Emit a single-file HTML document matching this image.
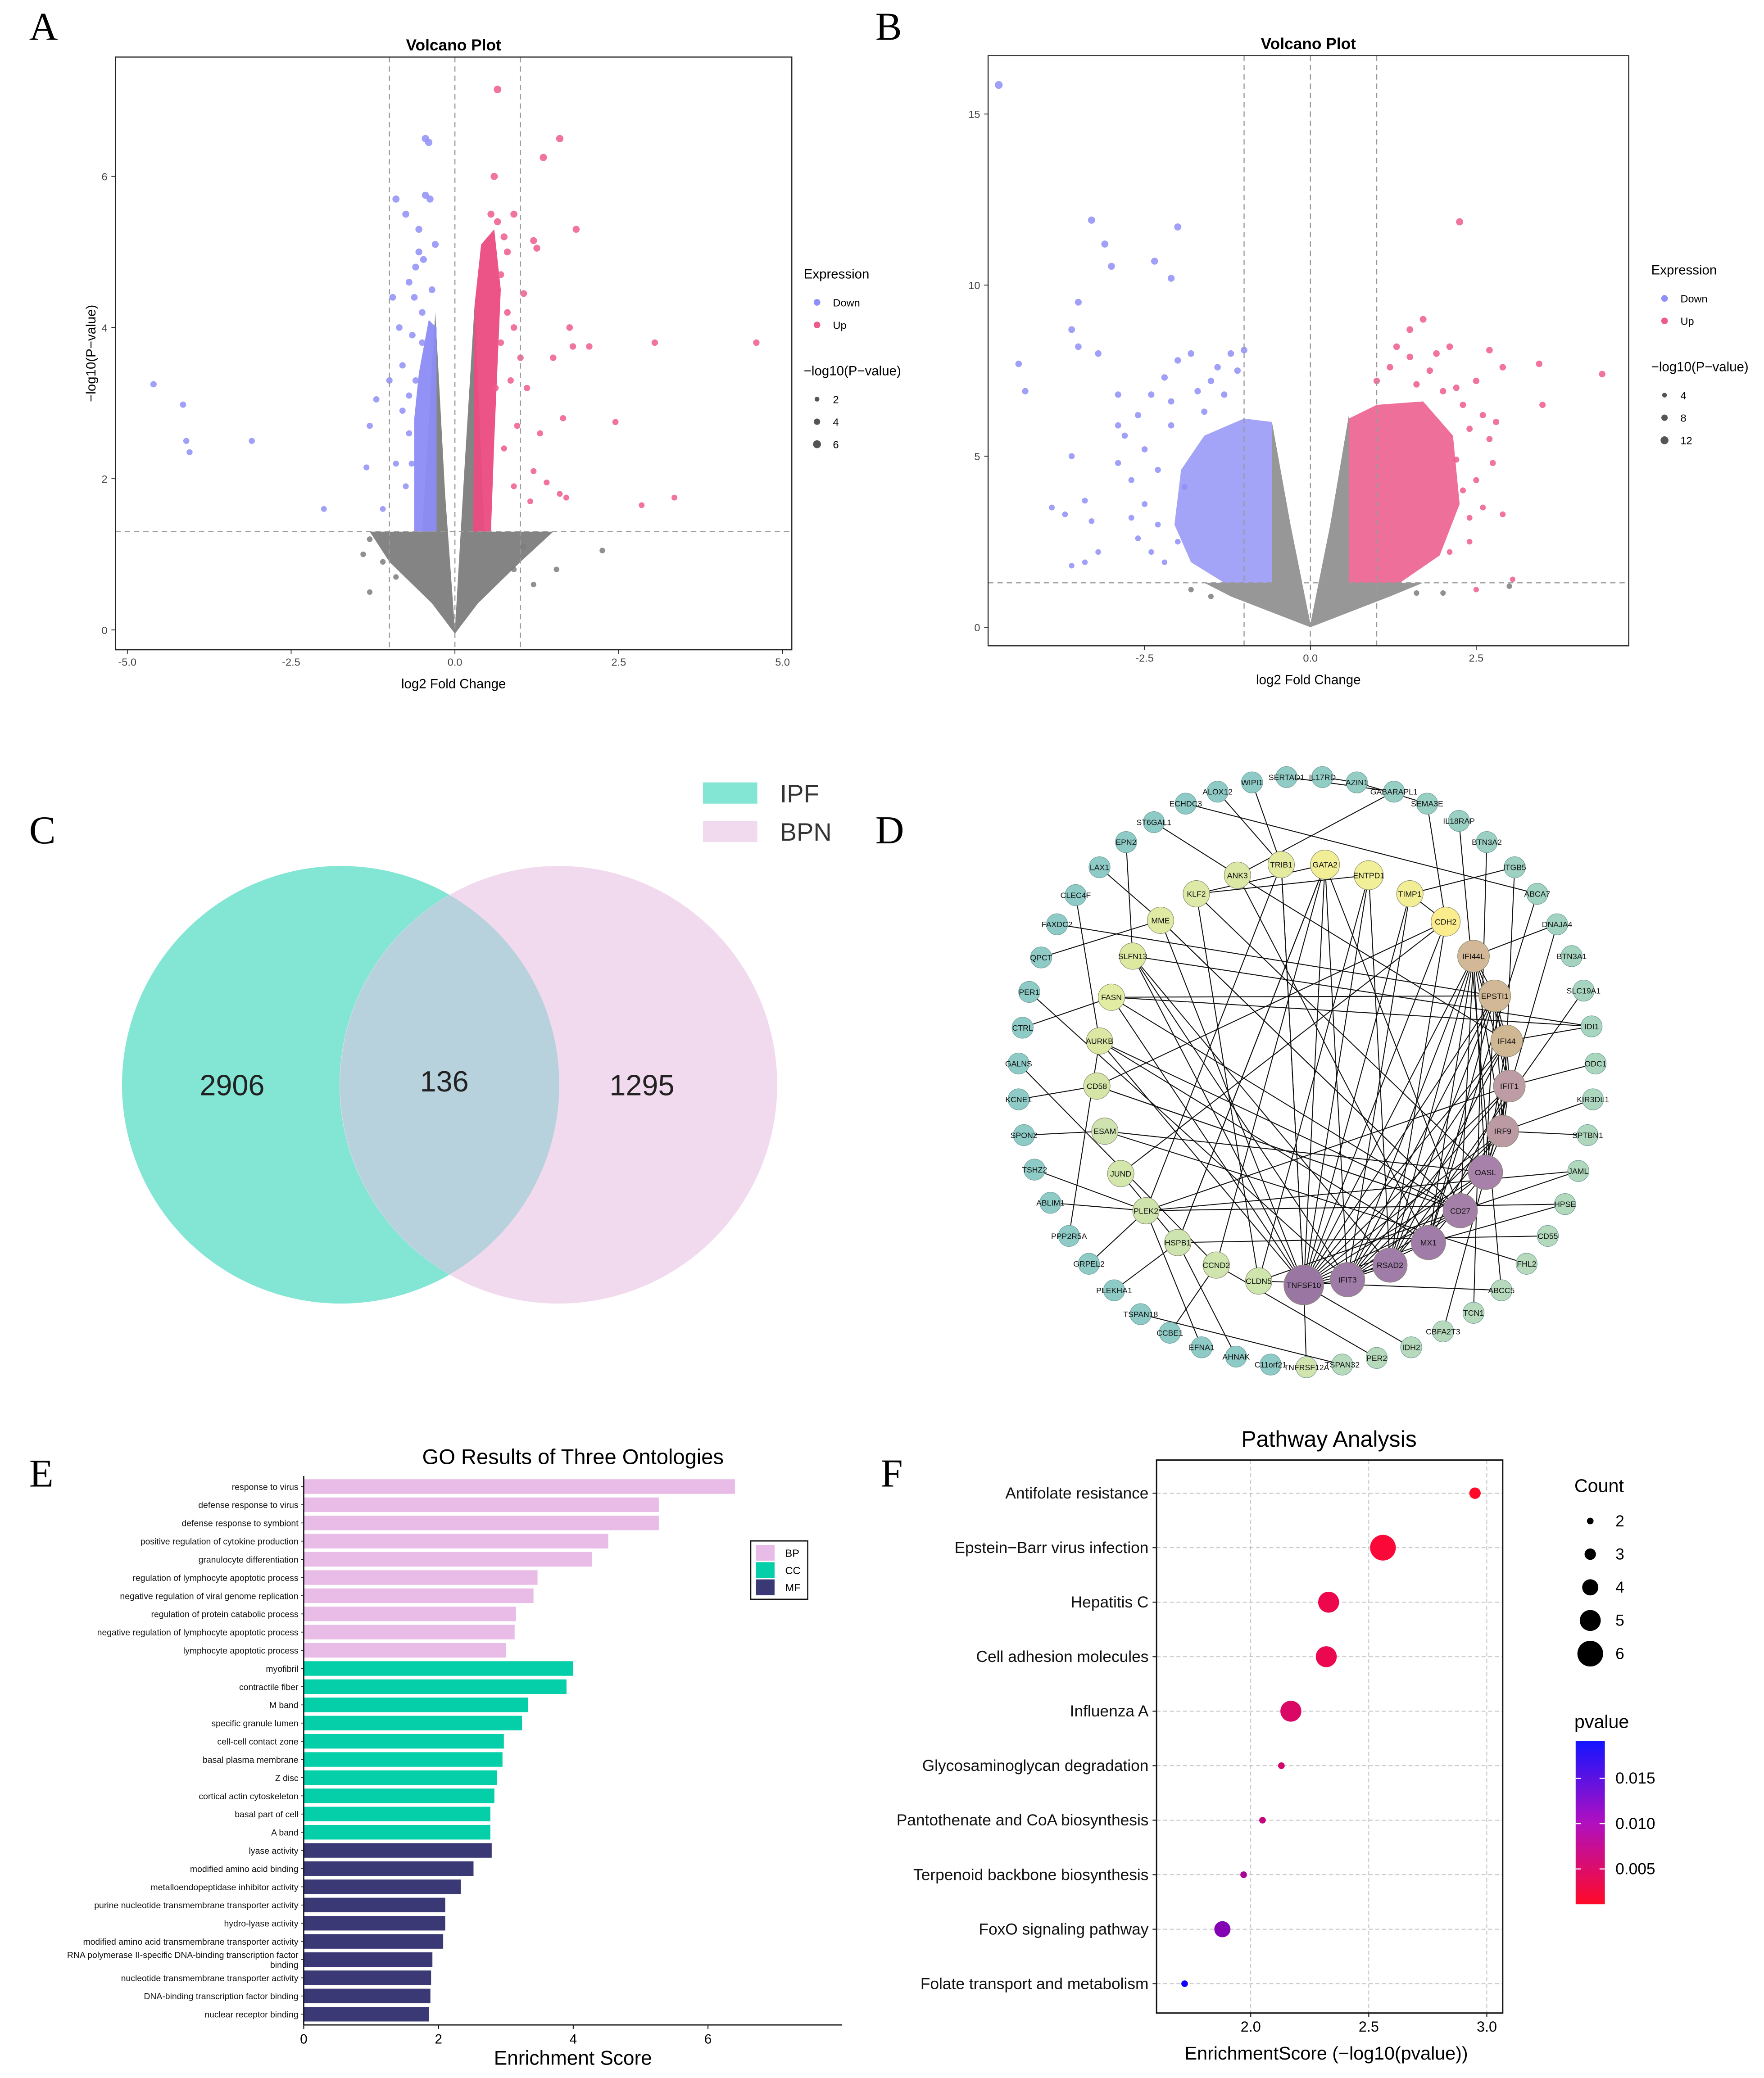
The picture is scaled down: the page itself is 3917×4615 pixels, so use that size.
<!DOCTYPE html>
<html><head><meta charset="utf-8"><style>
html,body{margin:0;padding:0;background:#fff}
svg{display:block}
text{font-family:"Liberation Sans",sans-serif}
.pl{font-family:"Liberation Serif",serif;font-size:30px}
</style></head><body>
<svg id="fig" xmlns="http://www.w3.org/2000/svg" width="3917" height="4615" viewBox="0 0 1330 1567">
<rect width="1330" height="1567" fill="#fff"/>
<text class="pl" x="22" y="30">A</text>
<text class="pl" x="660" y="30">B</text>
<text class="pl" x="22" y="636">C</text>
<text class="pl" x="660" y="636">D</text>
<text class="pl" x="22" y="1121">E</text>
<text class="pl" x="664" y="1121">F</text>

<g id="venn">
<circle cx="257" cy="818" r="165" fill="#83e5d4"/>
<circle cx="421" cy="818" r="165" fill="#f2daee"/>
<path d="M339,675 A165,165 0 0 1 339,961 A165,165 0 0 1 339,675Z" fill="#b7d2dc"/>
<text x="175" y="826" font-size="22" text-anchor="middle" fill="#222">2906</text>
<text x="335" y="823" font-size="22" text-anchor="middle" fill="#222">136</text>
<text x="484" y="826" font-size="22" text-anchor="middle" fill="#222">1295</text>
<rect x="530" y="590" width="41" height="16" fill="#83e5d4"/>
<text x="588" y="605" font-size="19" fill="#333">IPF</text>
<rect x="530" y="619" width="41" height="16" fill="#f2daee"/>
<text x="588" y="634" font-size="19" fill="#333">BPN</text>
</g>
<g id="gA"></g>
<g id="gB"></g>
<g id="gD"></g>
<g id="gE"></g>
<g id="gF"></g>
</svg>
<script>
const NS="http://www.w3.org/2000/svg";
function mk(p,tag,at,txt){const e=document.createElementNS(NS,tag);for(const k in at)e.setAttribute(k,at[k]);if(txt!==undefined)e.textContent=txt;p.appendChild(e);return e;}

// ---------- Volcano A data ----------
const aDown=[[-4.6,3.25],[-4.15,2.98],[-4.1,2.5],[-4.05,2.35],[-3.1,2.5],[-2.0,1.6],[-1.35,2.15],[-1.3,2.7],[-1.2,3.05],[-1.0,3.3],[-0.85,4.0],[-0.9,5.7],[-0.75,5.5],[-0.45,6.5],[-0.4,6.45],[-0.45,5.75],[-0.55,5.3],[-0.6,4.8],[-0.7,4.6],[-0.3,5.1],[-0.5,4.2],[-0.35,4.5],[-0.8,3.5],[-0.65,3.9],[-0.7,2.6],[-0.9,2.2],[-1.1,1.6],[-0.75,1.9],[-0.95,4.4],[-0.55,5.0],[-0.38,5.7],[-0.62,4.4],[-0.6,3.3],[-0.7,3.1],[-0.5,3.8],[-0.8,2.9],[-0.66,2.2],[-0.48,4.9]];
const aUp=[[0.65,7.15],[1.6,6.5],[1.35,6.25],[1.85,5.3],[1.2,5.15],[1.25,5.05],[0.9,5.5],[1.05,4.45],[1.0,3.6],[1.75,4.0],[1.5,3.6],[1.65,2.8],[2.05,3.75],[1.8,3.75],[2.45,2.75],[3.05,3.8],[4.6,3.8],[2.85,1.65],[3.35,1.75],[1.6,1.8],[1.7,1.75],[1.4,1.95],[1.2,2.1],[0.8,5.0],[0.65,5.4],[0.55,5.5],[0.7,4.7],[0.6,6.0],[1.1,3.2],[0.9,4.0],[1.3,2.6],[0.95,2.7],[0.85,3.3],[0.75,5.2],[1.15,1.7],[0.7,3.8],[0.8,4.2],[0.62,3.2],[0.75,2.4],[0.9,1.9]];
const aGray=[[2.25,1.05],[-1.3,0.5],[1.55,0.8],[1.2,0.6],[-1.1,0.9],[-1.4,1.0],[1.05,1.1],[-0.9,0.7],[0.9,0.8],[-1.3,1.2]];
const aGrayBody=[[-1.3,1.3],[-0.5,1.3],[-0.3,4.2],[-0.15,1.8],[0,0],[0.15,2.2],[0.3,4.3],[0.45,1.3],[1.5,1.3],[1.0,0.9],[0.35,0.35],[0,-0.05],[-0.35,0.35],[-1.0,0.9]];
const aDownBody=[[-0.62,1.3],[-0.28,1.3],[-0.28,4.0],[-0.4,4.1],[-0.55,3.4],[-0.62,2.8]];
const aUpBody=[[0.28,1.3],[0.55,1.3],[0.6,2.5],[0.7,4.5],[0.6,5.3],[0.4,5.1],[0.3,4.3]];
const aXTicks=[-5,-2.5,0,2.5,5];
const aYTicks=[0,2,4,6];
// ---------- Volcano B data ----------
const bDown=[[-4.7,15.85],[-4.4,7.7],[-4.3,6.9],[-3.3,11.9],[-3.1,11.2],[-3.0,10.55],[-2.0,11.7],[-2.35,10.7],[-2.1,10.2],[-3.5,9.5],[-3.6,8.7],[-3.5,8.2],[-3.2,8.0],[-3.6,5.0],[-3.9,3.5],[-3.7,3.3],[-3.4,3.7],[-3.3,3.1],[-3.2,2.2],[-3.4,1.9],[-3.6,1.8],[-2.7,4.3],[-2.5,5.2],[-2.6,6.2],[-2.9,6.8],[-2.2,7.3],[-1.8,8.0],[-1.2,8.0],[-1.0,8.1],[-1.5,7.2],[-2.3,3.0],[-2.0,2.5],[-1.9,4.1],[-2.4,6.8],[-2.1,5.9],[-2.8,5.6],[-2.2,1.9],[-1.3,6.8],[-1.6,6.3],[-2.6,2.6],[-2.9,4.8],[-2.0,7.8],[-1.1,7.5],[-2.3,4.6],[-2.5,3.6],[-2.1,6.6],[-1.7,6.9],[-2.7,3.2],[-2.9,5.9],[-1.4,7.6],[-2.4,2.2]];
const bUp=[[2.25,11.85],[1.7,9.0],[1.5,8.7],[1.9,8.0],[2.1,8.2],[2.7,8.1],[2.9,7.6],[3.45,7.7],[3.5,6.5],[4.4,7.4],[2.9,3.3],[3.05,1.4],[2.5,1.1],[2.75,4.8],[2.6,6.2],[2.4,5.8],[2.2,4.9],[2.0,6.9],[1.3,8.2],[1.0,7.2],[2.5,7.2],[2.3,6.5],[1.8,7.5],[1.2,7.6],[2.6,3.5],[2.4,2.5],[2.1,2.2],[2.7,5.5],[1.5,7.9],[2.3,4.0],[2.5,4.3],[2.2,7.0],[1.6,7.1],[2.4,3.2],[2.8,6.0]];
const bGray=[[3.0,1.2],[-1.5,0.9],[1.6,1.0],[-1.8,1.1],[2.0,1.0]];
const bGrayBody=[[-1.6,1.3],[-0.58,1.3],[-0.58,6.0],[-0.3,3.0],[0,0.1],[0.3,3.0],[0.58,6.2],[0.58,1.3],[1.7,1.3],[1.2,0.9],[0.4,0.3],[0,0],[-0.4,0.3],[-1.2,0.9]];
const bDownBody=[[-0.58,1.3],[-1.3,1.3],[-1.8,1.9],[-2.05,3.0],[-1.95,4.6],[-1.6,5.6],[-1.0,6.1],[-0.58,6.0]];
const bUpBody=[[0.58,1.3],[1.35,1.3],[1.95,2.1],[2.25,3.6],[2.15,5.6],[1.7,6.6],[1.0,6.5],[0.58,6.1]];
const bXTicks=[-2.5,0,2.5];
const bYTicks=[0,5,10,15];

function volcano(g,cfg){
  const sx=v=>cfg.x0+(v-cfg.xv0)*cfg.xk, sy=v=>cfg.y0-v*cfg.yk;
  mk(g,'text',{x:(cfg.L+cfg.R)/2,y:cfg.T-5,'font-size':12,'font-weight':'bold','text-anchor':'middle'},'Volcano Plot');
  const poly=(pts,col,name,op)=>{const e=mk(g,'polygon',{points:pts.map(p=>sx(p[0])+','+sy(p[1])).join(' '),fill:col,'fill-opacity':op});};
  poly(cfg.grayBody,'#7d7d7d','gray-dense-region',cfg.op);
  poly(cfg.downBody,'#8c8cf5','down-dense-region',cfg.op);
  poly(cfg.upBody,'#eb4b82','up-dense-region',cfg.op);
  const dots=(arr,col,name)=>arr.forEach(p=>{const c=mk(g,'circle',{cx:sx(p[0]),cy:sy(p[1]),r:2+p[1]*cfg.rk,fill:col,'fill-opacity':0.85});});
  dots(cfg.gray,'#7d7d7d','gray-point');dots(cfg.down,'#8f8ff7','down-point');dots(cfg.up,'#ee5a8f','up-point');
  cfg.vlines.forEach(v=>mk(g,'line',{x1:sx(v),x2:sx(v),y1:cfg.T,y2:cfg.B,stroke:'#999','stroke-dasharray':'4,3','stroke-width':0.8}));
  mk(g,'line',{x1:cfg.L,x2:cfg.R,y1:sy(1.3),y2:sy(1.3),stroke:'#999','stroke-dasharray':'4,3','stroke-width':0.8});
  const fr=mk(g,'rect',{x:cfg.L,y:cfg.T,width:cfg.R-cfg.L,height:cfg.B-cfg.T,fill:'none',stroke:'#222','stroke-width':0.8});
  cfg.xt.forEach(v=>{mk(g,'line',{x1:sx(v),x2:sx(v),y1:cfg.B,y2:cfg.B+3,stroke:'#222','stroke-width':0.6});const t=mk(g,'text',{x:sx(v),y:cfg.B+12,'font-size':8,'text-anchor':'middle',fill:'#444'},v.toFixed(1));});
  cfg.yt.forEach(v=>{mk(g,'line',{x1:cfg.L-3,x2:cfg.L,y1:sy(v),y2:sy(v),stroke:'#222','stroke-width':0.6});const t=mk(g,'text',{x:cfg.L-6,y:sy(v)+3,'font-size':8,'text-anchor':'end',fill:'#444'},String(v));});
  const xl=mk(g,'text',{x:(cfg.L+cfg.R)/2,y:cfg.B+29,'font-size':10,'text-anchor':'middle'},'log2 Fold Change');
  if(cfg.ylab){const yl=mk(g,'text',{x:0,y:0,'font-size':10,'text-anchor':'middle',transform:`translate(${cfg.L-15},${(cfg.T+cfg.B)/2}) rotate(-90)`},'−log10(P−value)');}
  const lx=cfg.lx,ly=cfg.ly;
  mk(g,'text',{x:lx,y:ly,'font-size':10},'Expression');
  mk(g,'circle',{cx:lx+10,cy:ly+18,r:2.5,fill:'#8f8ff7'});mk(g,'text',{x:lx+22,y:ly+21,'font-size':8},'Down');
  mk(g,'circle',{cx:lx+10,cy:ly+35,r:2.5,fill:'#ee5a8f'});mk(g,'text',{x:lx+22,y:ly+38,'font-size':8},'Up');
  mk(g,'text',{x:lx,y:ly+73,'font-size':10},'−log10(P−value)');
  cfg.sz.forEach((s,i)=>{mk(g,'circle',{cx:lx+10,cy:ly+91+i*17,r:1.8+i*0.6,fill:'#555'});mk(g,'text',{x:lx+22,y:ly+94+i*17,'font-size':8},String(s));});
}
volcano(document.getElementById('gA'),{L:87,R:597,T:43,B:490,x0:343,xv0:0,xk:49.4,y0:475,yk:57,rk:0.12,op:0.95,gray:aGray,down:aDown,up:aUp,grayBody:aGrayBody,downBody:aDownBody,upBody:aUpBody,vlines:[-1,0,1],xt:aXTicks,yt:aYTicks,ylab:true,lx:606,ly:210,sz:[2,4,6]});
volcano(document.getElementById('gB'),{L:745,R:1228,T:42,B:487,x0:988,xv0:0,xk:50,y0:473,yk:25.8,rk:0.06,op:0.8,gray:bGray,down:bDown,up:bUp,grayBody:bGrayBody,downBody:bDownBody,upBody:bUpBody,vlines:[-1,0,1],xt:bXTicks,yt:bYTicks,ylab:false,lx:1245,ly:207,sz:[4,8,12]});

// ---------- Network ----------
const outerNames=["WIPI1","SERTAD1","IL17RD","AZIN1","GABARAPL1","SEMA3E","IL18RAP","BTN3A2","ITGB5","ABCA7","DNAJA4","BTN3A1","SLC19A1","IDI1","ODC1","KIR3DL1","SPTBN1","JAML","HPSE","CD55","FHL2","ABCC5","TCN1","CBFA2T3","IDH2","PER2","TSPAN32","TNFRSF12A","C11orf21","AHNAK","EFNA1","CCBE1","TSPAN18","PLEKHA1","GRPEL2","PPP2R5A","ABLIM1","TSHZ2","SPON2","KCNE1","GALNS","CTRL","PER1","QPCT","FAXDC2","CLEC4F","LAX1","EPN2","ST6GAL1","ECHDC3","ALOX12"];
const outerPos=[[944,590],[970,586],[997,586],[1023,590],[1051,597],[1076,606],[1100,619],[1121,635],[1142,654],[1159,674],[1174,697],[1185,721],[1194,747],[1200,774],[1203,802],[1201,829],[1197,856],[1190,883],[1180,908],[1167,932],[1151,953],[1132,973],[1111,990],[1088,1004],[1064,1016],[1038,1024],[1012,1029],[985,1031],[958,1029],[932,1023],[906,1016],[882,1005],[860,991],[840,973],[821,953],[806,932],[792,907],[780,882],[772,856],[768,829],[768,802],[771,775],[776,748],[785,722],[797,697],[811,675],[829,654],[849,635],[870,620],[894,606],[918,597]];
const innerNames=["TRIB1","GATA2","ENTPD1","TIMP1","CDH2","IFI44L","EPSTI1","IFI44","IFIT1","IRF9","OASL","CD27","MX1","RSAD2","IFIT3","TNFSF10","CLDN5","CCND2","HSPB1","PLEK2","JUND","ESAM","CD58","AURKB","FASN","SLFN13","MME","KLF2","ANK3"];
const innerPos=[[966,652],[999,652],[1032,660],[1063,674],[1090,695],[1111,721],[1127,751],[1136,785],[1138,819],[1133,853],[1120,884],[1101,913],[1077,937],[1048,954],[1016,965],[983,969],[949,966],[917,954],[888,937],[864,913],[845,885],[833,853],[827,819],[829,785],[838,752],[854,721],[875,694],[902,674],[933,660]];
const innerR=[10,11,11,10,11,12,12,12,12,12,13,13,13,13,13,15,10,10,10,10,10,10,10,10,10,10,10,10,10];
const innerCol=["#e4eba0","#f1ee96","#f1ef98","#f2ee96","#fbec8e","#d2b896","#d2b896","#d0b794","#bd9ca5","#bb9aa4","#a781aa","#a480a9","#a07ca8","#a07ca8","#9f7ba8","#9a77a3","#cee6ae","#cfe5ad","#cde4b1","#cfe4ac","#d3e6ac","#cfe3b0","#d5e5a8","#dbe7a2","#e2eca3","#dde8a0","#e1eaa3","#dde9a6","#dbe7a4"];
const edges=[[56,57],[56,58],[56,59],[56,60],[56,61],[56,62],[56,63],[56,64],[56,65],[56,66],[57,58],[57,59],[57,60],[57,61],[57,63],[57,64],[57,65],[57,66],[58,59],[58,60],[58,61],[58,64],[58,65],[58,66],[59,60],[59,61],[59,63],[59,65],[59,66],[60,61],[60,64],[60,65],[60,66],[61,63],[61,65],[61,66],[62,66],[62,65],[63,65],[63,66],[64,66],[64,65],[65,66],[66,27],[66,51],[66,52],[66,53],[66,54],[66,55],[66,77],[66,75],[66,74],[65,52],[65,54],[65,76],[64,53],[64,55],[63,18],[63,79],[62,77],[62,75],[62,73],[62,17],[61,72],[60,16],[59,70],[59,14],[58,13],[57,75],[57,44],[56,10],[55,54],[55,5],[55,73],[54,8],[53,78],[53,67],[52,78],[52,69],[52,68],[52,62],[51,0],[51,50],[51,70],[51,66],[79,4],[79,48],[79,58],[78,67],[78,61],[77,43],[77,62],[77,46],[76,13],[76,64],[76,66],[76,47],[75,41],[75,13],[74,45],[74,35],[74,62],[74,63],[73,39],[73,62],[72,20],[72,38],[71,69],[71,55],[70,36],[70,37],[70,34],[70,18],[69,29],[69,19],[69,52],[68,25],[68,31],[67,21],[67,62],[32,26],[2,3],[1,4],[3,5],[49,9],[6,21],[7,22],[12,64],[15,60],[9,63],[17,70],[40,68],[42,65],[24,66],[23,59],[30,70],[33,69],[8,60],[10,61]];
(function(){
  const g=document.getElementById('gD');
  const P=outerPos.concat(innerPos);
  edges.forEach(e=>{const a=P[e[0]],b=P[e[1]];const l=mk(g,'line',{x1:a[0],y1:a[1],x2:b[0],y2:b[1],stroke:'#111','stroke-width':0.7});
    
    });
  function lerp(c1,c2,t){const h=s=>[1,3,5].map(i=>parseInt(s.substr(i,2),16));const a=h(c1),b=h(c2);return 'rgb('+a.map((v,i)=>Math.round(v+(b[i]-v)*t)).join(',')+')';}
  outerNames.forEach((n,i)=>{const p=outerPos[i];let t=0;if(i<=27)t=Math.min(1,i/20);const col=i===27?'#d2e4ad':lerp('#8ecbc6','#b6dabb',t);
    const c=mk(g,'circle',{cx:p[0],cy:p[1],r:8,fill:col,stroke:'#6f9f9a','stroke-width':0.4});
    
    
    const t2=mk(g,'text',{x:p[0],y:p[1]+2.2,'font-size':6,'text-anchor':'middle',fill:'#111'},n);
    
    });
  innerNames.forEach((n,i)=>{const p=innerPos[i];
    const c=mk(g,'circle',{cx:p[0],cy:p[1],r:innerR[i],fill:innerCol[i],stroke:'#8a8a70','stroke-width':0.4});
    
    
    const t2=mk(g,'text',{x:p[0],y:p[1]+2.2,'font-size':6,'text-anchor':'middle',fill:'#111'},n);
    
    });
})();

// ---------- GO bar chart ----------
const goTerms=["response to virus","defense response to virus","defense response to symbiont","positive regulation of cytokine production","granulocyte differentiation","regulation of lymphocyte apoptotic process","negative regulation of viral genome replication","regulation of protein catabolic process","negative regulation of lymphocyte apoptotic process","lymphocyte apoptotic process","myofibril","contractile fiber","M band","specific granule lumen","cell-cell contact zone","basal plasma membrane","Z disc","cortical actin cytoskeleton","basal part of cell","A band","lyase activity","modified amino acid binding","metalloendopeptidase inhibitor activity","purine nucleotide transmembrane transporter activity","hydro-lyase activity","modified amino acid transmembrane transporter activity","RNA polymerase II-specific DNA-binding transcription factor binding","nucleotide transmembrane transporter activity","DNA-binding transcription factor binding","nuclear receptor binding"];
const goScores=[6.40,5.27,5.27,4.52,4.28,3.47,3.41,3.15,3.13,3.00,4.00,3.90,3.33,3.24,2.97,2.95,2.87,2.83,2.77,2.77,2.79,2.52,2.33,2.10,2.10,2.07,1.91,1.89,1.88,1.86];
const goOntology=["BP","BP","BP","BP","BP","BP","BP","BP","BP","BP","CC","CC","CC","CC","CC","CC","CC","CC","CC","CC","MF","MF","MF","MF","MF","MF","MF","MF","MF","MF"];
const goTicks=[0,2,4,6];
(function(){
  const g=document.getElementById('gE');
  const col={BP:'#e8bce6',CC:'#05cfa8',MF:'#3a3875'};
  const x0=229,k=50.8,top=1121,step=13.72,bh=11;
  const sx=v=>x0+v*k, sy=i=>top+i*step;
  const tt=mk(g,'text',{x:432,y:1104,'font-size':16,'text-anchor':'middle'},'GO Results of Three Ontologies');
  
  goTerms.forEach((t,i)=>{
    const r=mk(g,'rect',{x:x0,y:sy(i)-bh/2,width:sx(goScores[i])-x0,height:bh,fill:col[goOntology[i]]});
    
    
    mk(g,'line',{x1:x0-2,x2:x0,y1:sy(i),y2:sy(i),stroke:'#333','stroke-width':0.6});
    const lines=t.length>60?["RNA polymerase II-specific DNA-binding transcription factor","binding"]:[t];
    lines.forEach((ln,j)=>{const tx=mk(g,'text',{x:x0-4,y:sy(i)+2.5+(j-(lines.length-1)/2)*7.5,'font-size':6.6,'text-anchor':'end',fill:'#111'},ln);
      
      });
  });
  mk(g,'line',{x1:x0,x2:x0,y1:1113,y2:1527,stroke:'#111','stroke-width':0.9});
  mk(g,'line',{x1:x0,x2:635,y1:1527,y2:1527,stroke:'#111','stroke-width':0.9});
  goTicks.forEach(v=>{mk(g,'line',{x1:sx(v),x2:sx(v),y1:1527,y2:1530,stroke:'#111','stroke-width':0.7});
    const t=mk(g,'text',{x:sx(v),y:1541,'font-size':10,'text-anchor':'middle'},String(v));});
  const xl=mk(g,'text',{x:432,y:1557,'font-size':15,'text-anchor':'middle'},'Enrichment Score');
  const lg=mk(g,'rect',{x:566,y:1162,width:43,height:44,fill:'#fff',stroke:'#111','stroke-width':0.9});
  ["BP","CC","MF"].forEach((o,i)=>{mk(g,'rect',{x:570,y:1165+i*13,width:14,height:12,fill:col[o]});
    const t=mk(g,'text',{x:592,y:1174+i*13,'font-size':8},o);});
})();

// ---------- Pathway dot plot ----------
const pwNames=["Antifolate resistance","Epstein−Barr virus infection","Hepatitis C","Cell adhesion molecules","Influenza A","Glycosaminoglycan degradation","Pantothenate and CoA biosynthesis","Terpenoid backbone biosynthesis","FoxO signaling pathway","Folate transport and metabolism"];
const pwScore=[2.95,2.56,2.33,2.32,2.17,2.13,2.05,1.97,1.88,1.72];
const pwCount=[3,6,5,5,5,2,2,2,4,2];
const pwP=[0.0011,0.0028,0.0047,0.0048,0.0068,0.0074,0.0089,0.0107,0.0132,0.0191];
const pwXTicks=[2.0,2.5,3.0];
const cntLegend=[2,3,4,5,6];
const pTicks=[0.015,0.010,0.005];
(function(){
  const g=document.getElementById('gF');
  const L=872,R=1133,T=1101,B=1518;
  const sx=v=>943+(v-2)*178, sy=i=>1126+i*41.1, rr=c=>2.5+(c-2)*1.8;
  const pmin=0.0011,pmax=0.0191;
  const pc=p=>{const t=Math.max(0,Math.min(1,(p-pmin)/(pmax-pmin)));const r=Math.round(255-235*Math.pow(t,1.6)),b=Math.round(40+215*Math.pow(t,1.1));return `rgb(${r},${Math.round(10*(1-t))},${b})`;};
  const ps=p=>1436-(p-pmin)/(pmax-pmin)*123;
  mk(g,'text',{x:1002,y:1091,'font-size':17,'text-anchor':'middle'},'Pathway Analysis');
  mk(g,'rect',{x:L,y:T,width:R-L,height:B-T,fill:'#fff'});
  pwNames.forEach((n,i)=>mk(g,'line',{x1:L,x2:R,y1:sy(i),y2:sy(i),stroke:'#bbb','stroke-dasharray':'3,2','stroke-width':0.6}));
  pwXTicks.forEach(v=>mk(g,'line',{x1:sx(v),x2:sx(v),y1:T,y2:B,stroke:'#bbb','stroke-dasharray':'3,2','stroke-width':0.6}));
  mk(g,'rect',{x:L,y:T,width:R-L,height:B-T,fill:'none',stroke:'#111','stroke-width':1});
  pwNames.forEach((n,i)=>{
    mk(g,'line',{x1:L-3,x2:L,y1:sy(i),y2:sy(i),stroke:'#111','stroke-width':0.7});
    const t=mk(g,'text',{x:L-6,y:sy(i)+4,'font-size':12,'text-anchor':'end',fill:'#111'},n);
    
    
    const c=mk(g,'circle',{cx:sx(pwScore[i]),cy:sy(i),r:rr(pwCount[i]),fill:pc(pwP[i])});
    
    
  });
  pwXTicks.forEach(v=>{mk(g,'line',{x1:sx(v),x2:sx(v),y1:B,y2:B+3,stroke:'#111','stroke-width':0.7});
    mk(g,'text',{x:sx(v),y:B+14,'font-size':11,'text-anchor':'middle'},v.toFixed(1));});
  mk(g,'text',{x:1000,y:1553,'font-size':14,'text-anchor':'middle'},'EnrichmentScore (−log10(pvalue))');
  mk(g,'text',{x:1187,y:1125,'font-size':14},'Count');
  cntLegend.forEach((c,i)=>{mk(g,'circle',{cx:1199,cy:1147+i*25,r:rr(c),fill:'#000'});
    mk(g,'text',{x:1218,y:1151+i*25,'font-size':12},String(c));});
  mk(g,'text',{x:1187,y:1303,'font-size':14},'pvalue');
  const defs=mk(g,'defs',{});const lgd=mk(defs,'linearGradient',{id:'pg',x1:0,y1:0,x2:0,y2:1});
  mk(lgd,'stop',{offset:'0','stop-color':'#1414ff'});mk(lgd,'stop',{offset:'0.5','stop-color':'#b010c0'});mk(lgd,'stop',{offset:'1','stop-color':'#ff0a28'});
  mk(g,'rect',{x:1188,y:1313,width:22,height:123,fill:'url(#pg)'});
  pTicks.forEach(p=>{mk(g,'line',{x1:1188,x2:1192,y1:ps(p),y2:ps(p),stroke:'#fff','stroke-width':0.8});mk(g,'line',{x1:1206,x2:1210,y1:ps(p),y2:ps(p),stroke:'#fff','stroke-width':0.8});
    mk(g,'text',{x:1218,y:ps(p)+4,'font-size':12},p.toFixed(3));});
})();
</script>
</body></html>
